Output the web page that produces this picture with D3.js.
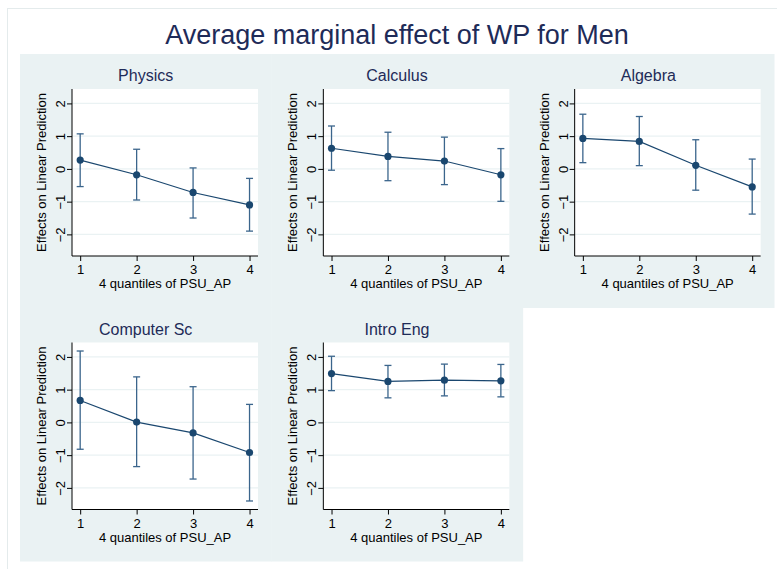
<!DOCTYPE html>
<html>
<head>
<meta charset="utf-8">
<script src="https://cdn.jsdelivr.net/npm/d3@7"></script>
<style>
  html, body { margin: 0; padding: 0; background: #ffffff; }
  svg { display: block; font-family: "Liberation Sans", Arial, Helvetica, sans-serif; }
</style>
</head>
<body>
<svg id="chart" width="777" height="569"></svg>
<script>
// Panels: one per course, effect of WP across 4 quantiles of PSU_AP
const courses = ["Physics", "Calculus", "Algebra", "Computer Sc", "Intro Eng"];
const quantiles = [1, 2, 3, 4];

const physicsEst = [0.27, -0.18, -0.72, -1.10];
const physicsLo  = [-0.54, -0.95, -1.50, -1.90];
const physicsHi  = [1.07, 0.60, 0.03, -0.29];

const calculusEst = [0.63, 0.38, 0.24, -0.18];
const calculusLo  = [-0.04, -0.36, -0.48, -0.99];
const calculusHi  = [1.31, 1.12, 0.97, 0.62];

const algebraEst = [0.93, 0.84, 0.11, -0.55];
const algebraLo  = [0.19, 0.10, -0.65, -1.38];
const algebraHi  = [1.67, 1.60, 0.89, 0.30];

const compSciEst = [0.67, 0.01, -0.32, -0.92];
const compSciLo  = [-0.82, -1.35, -1.73, -2.40];
const compSciHi  = [2.18, 1.39, 1.09, 0.55];

const introEngEst = [1.49, 1.25, 1.29, 1.27];
const introEngLo  = [0.97, 0.75, 0.81, 0.78];
const introEngHi  = [2.02, 1.74, 1.78, 1.77];

const yTicks = [-2, -1, 0, 1, 2];
const yTickLabels = ["\u22122", "\u22121", "0", "1", "2"];
const xTickLabels = ["1", "2", "3", "4"];

const chartTitle = "Average marginal effect of WP for Men";
const xTitle = "4 quantiles of PSU_AP";
const yTitle = "Effects on Linear Prediction";

const estimates = [physicsEst, calculusEst, algebraEst, compSciEst, introEngEst];
const lows = [physicsLo, calculusLo, algebraLo, compSciLo, introEngLo];
const highs = [physicsHi, calculusHi, algebraHi, compSciHi, introEngHi];

const panels = courses.map((name, i) => ({
  name,
  points: quantiles.map((q, j) => ({ q, est: estimates[i][j], lo: lows[i][j], hi: highs[i][j] }))
}));

// Layout
const regionLeft = 20, regionTop = 54, regionRight = 774, regionBottom = 561;
const nCols = 3, nRows = 2;
const cellW = (regionRight - regionLeft) / nCols;
const cellH = (regionBottom - regionTop) / nRows;
const plot = { left: 52, right: 238, top: 35, bottom: 202 };

const bg = "#eaf2f3";
const navy = "#1a476f";
const ciColor = "#3b658c";
const titleColor = "#1e2b58";

const svg = d3.select("#chart");

// Outer frame
svg.append("rect")
  .attr("x", 7.5).attr("y", 8.5)
  .attr("width", 820).attr("height", 620)
  .attr("fill", "#ffffff")
  .attr("stroke", "#e4ebec").attr("stroke-width", 1);

svg.append("text")
  .attr("x", (regionLeft + regionRight) / 2)
  .attr("y", 44)
  .attr("text-anchor", "middle")
  .attr("font-size", 27)
  .attr("fill", titleColor)
  .text(chartTitle);

const x = d3.scaleLinear().domain([0.855, 4.15]).range([plot.left, plot.right]);
const y = d3.scaleLinear().domain([-2.66, 2.44]).range([plot.bottom, plot.top]);

panels.forEach((p, i) => {
  const col = i % nCols, row = Math.floor(i / nCols);
  const g = svg.append("g")
    .attr("transform", `translate(${regionLeft + col * cellW},${regionTop + row * cellH})`);

  g.append("rect")
    .attr("width", cellW + 0.5).attr("height", cellH + 0.5)
    .attr("fill", bg);

  g.append("text")
    .attr("x", cellW / 2).attr("y", 27)
    .attr("text-anchor", "middle")
    .attr("font-size", 16)
    .attr("fill", titleColor)
    .text(p.name);

  g.append("rect")
    .attr("x", plot.left).attr("y", plot.top)
    .attr("width", plot.right - plot.left).attr("height", plot.bottom - plot.top)
    .attr("fill", "#ffffff");

  // Grid lines
  g.selectAll("line.grid").data(yTicks).join("line")
    .attr("class", "grid")
    .attr("x1", plot.left).attr("x2", plot.right)
    .attr("y1", d => y(d)).attr("y2", d => y(d))
    .attr("stroke", bg).attr("stroke-width", 1.2);

  // Axes
  const yAxis = d3.axisLeft(y).tickValues(yTicks)
    .tickFormat((d, k) => yTickLabels[k]).tickSize(5).tickPadding(2);
  const ya = g.append("g").attr("transform", `translate(${plot.left},0)`).call(yAxis);
  ya.select(".domain").attr("stroke", "#000").attr("d", `M0,${plot.top}V${plot.bottom}`);
  ya.selectAll(".tick line").attr("stroke", "#000");
  ya.selectAll(".tick text")
    .attr("font-size", 13).attr("font-family", "Liberation Sans, Arial, sans-serif")
    .attr("fill", "#000")
    .attr("text-anchor", "middle").attr("dy", null)
    .attr("x", null)
    .attr("transform", "translate(-7,0) rotate(-90)")
    .attr("y", 0);

  const xAxis = d3.axisBottom(x).tickValues(quantiles)
    .tickFormat((d, k) => xTickLabels[k]).tickSize(5).tickPadding(3);
  const xa = g.append("g").attr("transform", `translate(0,${plot.bottom})`).call(xAxis);
  xa.select(".domain").attr("stroke", "#000").attr("d", `M${plot.left},0H${plot.right}`);
  xa.selectAll(".tick line").attr("stroke", "#000");
  xa.selectAll(".tick text")
    .attr("font-size", 13).attr("font-family", "Liberation Sans, Arial, sans-serif")
    .attr("fill", "#000").attr("dy", null).attr("y", 18);

  g.append("text")
    .attr("x", (plot.left + plot.right) / 2).attr("y", 234)
    .attr("text-anchor", "middle").attr("font-size", 13).attr("fill", "#000")
    .text(xTitle);

  g.append("text")
    .attr("transform", `translate(26,${(plot.top + plot.bottom) / 2}) rotate(-90)`)
    .attr("text-anchor", "middle").attr("font-size", 13).attr("fill", "#000")
    .text(yTitle);

  // Confidence intervals
  const ci = g.append("g").attr("stroke", ciColor).attr("stroke-width", 1.3).attr("fill", "none");
  p.points.forEach(d => {
    ci.append("line").attr("x1", x(d.q)).attr("x2", x(d.q)).attr("y1", y(d.lo)).attr("y2", y(d.hi));
    ci.append("line").attr("x1", x(d.q) - 3.5).attr("x2", x(d.q) + 3.5).attr("y1", y(d.lo)).attr("y2", y(d.lo));
    ci.append("line").attr("x1", x(d.q) - 3.5).attr("x2", x(d.q) + 3.5).attr("y1", y(d.hi)).attr("y2", y(d.hi));
  });

  // Connected estimates
  g.append("path")
    .datum(p.points)
    .attr("d", d3.line().x(d => x(d.q)).y(d => y(d.est)))
    .attr("fill", "none").attr("stroke", navy).attr("stroke-width", 1.2);

  g.selectAll("circle.pt").data(p.points).join("circle")
    .attr("class", "pt")
    .attr("cx", d => x(d.q)).attr("cy", d => y(d.est)).attr("r", 3.6)
    .attr("fill", navy);
});
</script>
</body>
</html>
